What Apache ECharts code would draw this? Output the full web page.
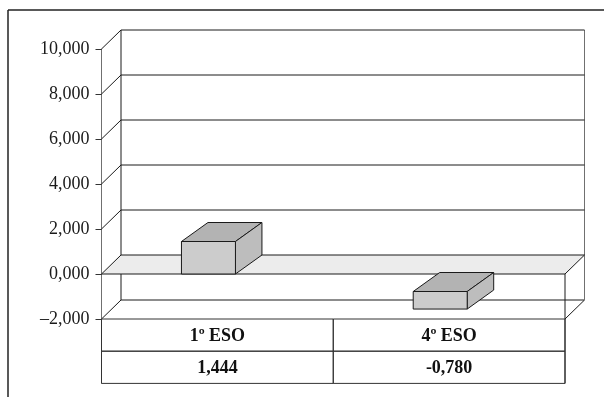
<!DOCTYPE html>
<html>
<head>
<meta charset="utf-8">
<script src="https://cdn.jsdelivr.net/npm/echarts@6/dist/echarts.min.js"></script>
<style>
  html, body { margin: 0; padding: 0; background: #fff; }
  #chart { width: 604px; height: 397px; }
</style>
</head>
<body>
<div id="chart"></div>
<script>
// Group labels and their values (table rows and block heights)
const categories = ['1º ESO', '4º ESO'];
const values = [1.444, -0.780];

// Value axis range and step
const yMin = -2;
const yMax = 10;
const yStep = 2;
const yTicks = [];
for (let t = yMin; t <= yMax; t += yStep) yTicks.push(t);

// Oblique depth of the walls and of the blocks (pixels)
const WALL_DEPTH = [19.5, -19];
const BAR_DEPTH = [26.5, -19];
// Blocks below zero hang just in front of the floor slab
const NEG_SHIFT = 17.5;

const FONT = '"Liberation Serif", "Times New Roman", serif';
const LINE = '#1a1a1a';

function fmtAxis(v) {
  return v.toFixed(3).replace('.', ',').replace('-', '\u2013');
}
function fmtCell(v) {
  return v.toFixed(3).replace('.', ',');
}

const chart = echarts.init(document.getElementById('chart'), null, { renderer: 'canvas' });

// Back wall, left wall and floor built from the value-axis ticks
function renderWalls(params, api) {
  const cs = params.coordSys;
  const v = api.value(0);
  const y = api.coord([0, v])[1];
  const xl = cs.x, xr = cs.x + cs.width;
  const bx = WALL_DEPTH[0], by = WALL_DEPTH[1];
  const children = [];
  const ls = { stroke: LINE, lineWidth: 1 };
  if (v === 0) {
    children.push({
      type: 'polygon',
      shape: { points: [[xl, y], [xr, y], [xr + bx, y + by], [xl + bx, y + by]] },
      style: { fill: '#ececec', stroke: LINE, lineWidth: 1 },
      z2: 5
    });
  } else {
    children.push({ type: 'line', shape: { x1: xl, y1: y, x2: xl + bx, y2: y + by }, style: ls });
    children.push({ type: 'line', shape: { x1: xl + bx, y1: y + by, x2: xr + bx, y2: y + by }, style: ls });
  }
  if (v === yMin) {
    children.push({ type: 'line', shape: { x1: xr, y1: y, x2: xr + bx, y2: y + by }, style: ls });
    const yTop = api.coord([0, yMax])[1];
    children.push({ type: 'line', shape: { x1: xl + bx, y1: yTop + by, x2: xl + bx, y2: y + by }, style: ls });
    children.push({ type: 'line', shape: { x1: xr + bx, y1: yTop + by, x2: xr + bx, y2: y + by }, style: { stroke: '#707070', lineWidth: 1 } });
  }
  return { type: 'group', children: children };
}

// Shaded 3D-looking blocks
function renderBlocks(params, api) {
  const i = api.value(0);
  const v = api.value(1);
  const zero = api.coord([i, 0]);
  const end = api.coord([i, v]);
  const band = api.size([1, 0])[0];
  const xl = zero[0] - band * 0.155;
  const xr = zero[0] + band * 0.078;
  const shift = v < 0 ? NEG_SHIFT : 0;
  const yTop = Math.min(zero[1], end[1]) + shift;
  const yBot = Math.max(zero[1], end[1]) + shift;
  const dx = BAR_DEPTH[0], dy = BAR_DEPTH[1];
  const edge = { stroke: LINE, lineWidth: 1 };
  return {
    type: 'group',
    children: [
      { type: 'polygon', shape: { points: [[xl, yTop], [xr, yTop], [xr + dx, yTop + dy], [xl + dx, yTop + dy]] },
        style: Object.assign({ fill: '#b3b3b3' }, edge) },
      { type: 'polygon', shape: { points: [[xr, yTop], [xr + dx, yTop + dy], [xr + dx, yBot + dy], [xr, yBot]] },
        style: Object.assign({ fill: '#bdbdbd' }, edge) },
      { type: 'rect', shape: { x: xl, y: yTop, width: xr - xl, height: yBot - yTop },
        style: Object.assign({ fill: '#cccccc' }, edge) }
    ]
  };
}

// Data table under the plot: category row and value row
const ROW_H = 32.2;

// Front edges drawn over everything
function renderFront(params, api) {
  const cs = params.coordSys;
  const y0 = api.coord([0, 0])[1];
  const xr = cs.x + cs.width;
  const yb = cs.y + cs.height + ROW_H * 2;
  return {
    type: 'group',
    children: [
      { type: 'line', shape: { x1: xr, y1: y0, x2: xr, y2: yb }, style: { stroke: LINE, lineWidth: 1 } },
      { type: 'line', shape: { x1: cs.x, y1: cs.y + cs.height, x2: cs.x, y2: yb }, style: { stroke: '#707070', lineWidth: 1 } }
    ]
  };
}

function renderTable(params, api) {
  const cs = params.coordSys;
  const i = api.value(0);
  const cx = api.coord([i, 0])[0];
  const band = api.size([1, 0])[0];
  const x0 = cx - band / 2;
  const y0 = cs.y + cs.height;
  const cell = { fill: 'none', stroke: '#333', lineWidth: 1 };
  const txt = { fill: '#111', font: 'bold 18px ' + FONT, align: 'center', verticalAlign: 'middle' };
  return {
    type: 'group',
    children: [
      { type: 'rect', shape: { x: x0, y: y0, width: band, height: ROW_H }, style: cell },
      { type: 'rect', shape: { x: x0, y: y0 + ROW_H, width: band, height: ROW_H }, style: cell },
      { type: 'text', style: Object.assign({ text: categories[i], x: cx, y: y0 + ROW_H / 2 + 1 }, txt) },
      { type: 'text', style: Object.assign({ text: fmtCell(values[i]), x: cx, y: y0 + ROW_H * 1.5 + 1 }, txt) }
    ]
  };
}

const option = {
  animation: false,
  backgroundColor: '#ffffff',
  grid: { left: 101.5, right: 39, top: 49, bottom: 78 },
  xAxis: {
    type: 'category',
    data: categories,
    show: false
  },
  yAxis: {
    type: 'value',
    min: yMin,
    max: yMax,
    interval: yStep,
    axisLine: { show: true, lineStyle: { color: '#707070', width: 1 } },
    axisTick: { show: true, length: 6, lineStyle: { color: '#333' } },
    axisLabel: {
      margin: 12,
      fontFamily: FONT,
      fontSize: 18,
      color: '#1a1a1a',
      formatter: fmtAxis
    },
    splitLine: { show: false }
  },
  graphic: [
    { type: 'line', shape: { x1: 8, y1: 10, x2: 604, y2: 10 }, style: { stroke: '#222', lineWidth: 1.5 }, silent: true },
    { type: 'line', shape: { x1: 8, y1: 10, x2: 8, y2: 397 }, style: { stroke: '#222', lineWidth: 1.5 }, silent: true }
  ],
  series: [
    {
      type: 'custom', name: 'walls', clip: false, z: 1,
      data: yTicks.map(t => [t]),
      encode: { y: 0 },
      renderItem: renderWalls,
      silent: true
    },
    {
      type: 'custom', name: 'blocks', clip: false, z: 3,
      data: values.map((v, i) => [i, v]),
      encode: { x: 0, y: 1 },
      renderItem: renderBlocks
    },
    {
      type: 'custom', name: 'front', clip: false, z: 4,
      data: [[0]],
      renderItem: renderFront,
      silent: true
    },
    {
      type: 'custom', name: 'table', clip: false, z: 4,
      data: categories.map((c, i) => [i]),
      encode: { x: 0 },
      renderItem: renderTable,
      silent: true
    }
  ]
};

chart.setOption(option);
</script>
</body>
</html>
